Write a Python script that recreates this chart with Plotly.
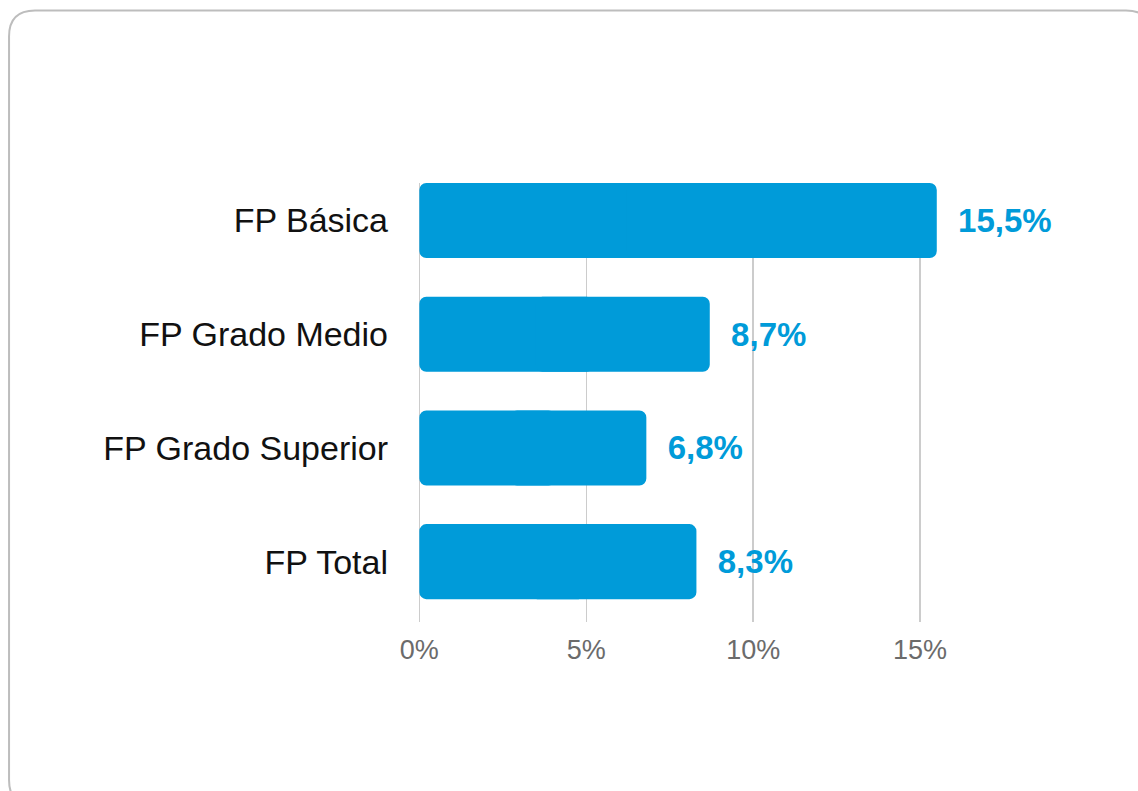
import plotly.graph_objects as go

categories = ["FP Básica", "FP Grado Medio", "FP Grado Superior", "FP Total"]
values = [15.5, 8.7, 6.8, 8.3]
tick_vals = [0, 5, 10, 15]
tick_text = ["0%", "5%", "10%", "15%"]

BLUE = "#009BD9"
W, H = 1138, 791
X_MIN, X_MAX = -0.1, 20
PX_PER_UNIT = 33.4
ML = 419 + X_MIN * PX_PER_UNIT
MR = W - (419 + X_MAX * PX_PER_UNIT)
MT, MB = 183, 169
PW, PH = W - ML - MR, H - MT - MB

labels = ["\u00a0\u00a0" + f"{v:.1f}".replace(".", ",") + "%" for v in values]
left_end = [v * 0.6 for v in values]    # left piece covers 0 .. 0.6v
right_start = [v * 0.4 for v in values]  # right piece covers 0.4v .. v

fig = go.Figure()
# left piece: drawn from 0.6v back to 0, so its rounded end sits at 0
fig.add_trace(go.Bar(
    y=categories, x=[-m for m in left_end], base=left_end, orientation="h",
    marker=dict(color=BLUE, cornerradius=7, line=dict(width=0)),
    width=0.66, hoverinfo="skip",
))
# right piece: from 0.4v to v (overlapping the left piece), label outside
fig.add_trace(go.Bar(
    y=categories, x=[v - s for v, s in zip(values, right_start)], base=right_start,
    orientation="h",
    marker=dict(color=BLUE, cornerradius=7, line=dict(width=0)),
    width=0.66,
    text=labels, textposition="outside",
    textfont=dict(family="Liberation Sans", size=33, color=BLUE, weight="bold"),
    cliponaxis=False, constraintext="none",
    hoverinfo="skip",
))

# rounded border around chart card (pixel -> paper coords)
def px(x):
    return (x - ML) / PW
def py(y):
    return (H - MB - y) / PH

x0, y0, x1, y1, r = 8.5, 10.5, 1152, 806, 26
path = (
    f"M {px(x0)},{py(y0 + r)} "
    f"Q {px(x0)},{py(y0)} {px(x0 + r)},{py(y0)} "
    f"L {px(x1 - r)},{py(y0)} "
    f"Q {px(x1)},{py(y0)} {px(x1)},{py(y0 + r)} "
    f"L {px(x1)},{py(y1 - r)} "
    f"Q {px(x1)},{py(y1)} {px(x1 - r)},{py(y1)} "
    f"L {px(x0 + r)},{py(y1)} "
    f"Q {px(x0)},{py(y1)} {px(x0)},{py(y1 - r)} Z"
)

fig.update_layout(
    width=W, height=H,
    margin=dict(l=ML, r=MR, t=MT, b=MB, pad=0),
    paper_bgcolor="white", plot_bgcolor="white",
    showlegend=False,
    barmode="overlay",
    font=dict(family="Liberation Sans"),
    shapes=[dict(type="path", path=path, xref="paper", yref="paper",
                 line=dict(color="#BDBDBD", width=2), fillcolor="rgba(0,0,0,0)",
                 layer="below")],
    xaxis=dict(range=[X_MIN, X_MAX], tickvals=tick_vals, ticktext=tick_text,
               showgrid=True, gridcolor="#CCCCCC", gridwidth=1.5,
               zeroline=True, zerolinecolor="#CCCCCC", zerolinewidth=1.5,
               showline=False, ticks="",
               tickfont=dict(size=27, color="#6B6B6B", family="Liberation Sans"),
               ticklabelstandoff=9, fixedrange=True),
    yaxis=dict(type="category", categoryarray=categories, range=[3.531, -0.33],
               showgrid=False, zeroline=False, showline=False, ticks="",
               tickfont=dict(size=34, color="#111111", family="Liberation Sans"),
               ticklabelstandoff=27, fixedrange=True),
)

fig.write_html("out.html", config={"displayModeBar": False, "staticPlot": True},
               post_script="document.body.style.margin='0';document.body.style.overflow='hidden';")
